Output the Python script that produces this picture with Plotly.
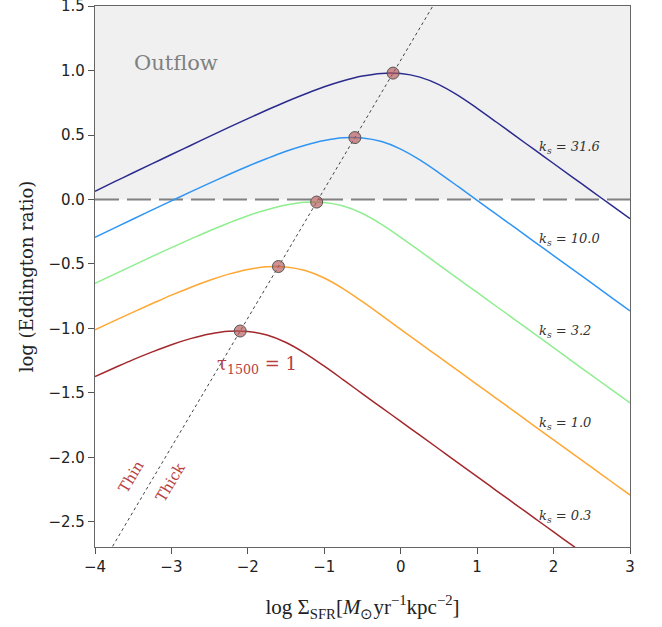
import plotly.graph_objects as go

# ---------------- data ----------------
log_sfr = [-4.0, -3.75, -3.5, -3.25, -3.0, -2.75, -2.5, -2.25, -2.0, -1.75, -1.5, -1.25,
           -1.0, -0.75, -0.5, -0.25, 0.0, 0.25, 0.5, 0.75, 1.0, 1.25, 1.5, 1.75,
           2.0, 2.25, 2.5, 2.75, 3.0]

ks_labels = ["31.6", "10.0", "3.2", "1.0", "0.3"]
ks_colors = ["#2b2b8e", "#2f95f5", "#8fee8f", "#ffa733", "#a3282c"]

edd_ks316 = [0.064, 0.136, 0.207, 0.278, 0.349, 0.419, 0.489, 0.559, 0.627, 0.694, 0.758, 0.818,
             0.874, 0.921, 0.957, 0.978, 0.977, 0.949, 0.891, 0.807, 0.707, 0.601, 0.493, 0.386,
             0.279, 0.172, 0.065, -0.042, -0.149]
edd_ks100 = [-0.293, -0.222, -0.151, -0.081, -0.011, 0.059, 0.127, 0.194, 0.258, 0.318, 0.374, 0.421,
             0.457, 0.478, 0.477, 0.449, 0.391, 0.307, 0.207, 0.101, -0.007, -0.114, -0.221, -0.328,
             -0.435, -0.542, -0.649, -0.757, -0.864]
edd_ks32 = [-0.651, -0.581, -0.511, -0.441, -0.373, -0.307, -0.242, -0.182, -0.126, -0.079, -0.043, -0.022,
            -0.023, -0.051, -0.109, -0.193, -0.293, -0.399, -0.507, -0.614, -0.721, -0.828, -0.935, -1.042,
            -1.149, -1.257, -1.364, -1.471, -1.578]
edd_ks10 = [-1.011, -0.941, -0.873, -0.807, -0.742, -0.682, -0.626, -0.579, -0.543, -0.522, -0.523, -0.551,
            -0.609, -0.693, -0.793, -0.899, -1.007, -1.114, -1.221, -1.328, -1.435, -1.542, -1.649, -1.757,
            -1.864, -1.971, -2.078, -2.185, -2.292]
edd_ks03 = [-1.373, -1.307, -1.242, -1.182, -1.126, -1.079, -1.043, -1.022, -1.023, -1.051, -1.109, -1.193,
            -1.293, -1.399, -1.507, -1.614, -1.721, -1.828, -1.935, -2.042, -2.149, -2.257, -2.364, -2.471,
            -2.578, -2.685, -2.792, -2.899, -3.007]

# tau_1500 = 1 points (peaks) and the tau = 1 line
tau1_x = [-2.1, -1.6, -1.1, -0.6, -0.1]
tau1_y = [-1.02, -0.52, -0.02, 0.48, 0.98]
tau_line_x = [-3.85, 0.48]
tau_line_y = [-2.77, 1.56]

outflow_threshold = 0.0
x_ticks = [-4, -3, -2, -1, 0, 1, 2, 3]
y_ticks = [-2.5, -2.0, -1.5, -1.0, -0.5, 0.0, 0.5, 1.0, 1.5]

# label anchor y positions for the ks annotations
ks_label_y = [0.40, -0.31, -1.02, -1.74, -2.46]

series = [edd_ks316, edd_ks100, edd_ks32, edd_ks10, edd_ks03]

fig = go.Figure()

# outflow shading + threshold line
fig.add_shape(type="rect", xref="paper", yref="y", x0=0, x1=1, y0=outflow_threshold, y1=1.6,
              fillcolor="#f0f0f0", line_width=0, layer="below")
fig.add_shape(type="line", xref="paper", yref="y", x0=0, x1=1, y0=outflow_threshold, y1=outflow_threshold,
              line=dict(color="#808080", width=2, dash="24px,8px"), layer="below")

for ys, col in zip(series, ks_colors):
    fig.add_trace(go.Scatter(x=log_sfr, y=ys, mode="lines", line=dict(color=col, width=1.5, shape="spline"),
                             showlegend=False, hoverinfo="skip"))

fig.add_trace(go.Scatter(x=tau_line_x, y=tau_line_y, mode="lines",
                         line=dict(color="#444444", width=1, dash="dot"), showlegend=False))

fig.add_trace(go.Scatter(x=tau1_x, y=tau1_y, mode="markers",
                         marker=dict(size=12, color="rgba(180,85,85,0.65)",
                                     line=dict(color="#555555", width=1)),
                         showlegend=False))

serif = "DejaVu Serif"
red_txt = "#b8403f"

fig.add_annotation(x=-3.52, y=1.06, text="Outflow", showarrow=False, xanchor="left",
                   font=dict(family=serif, size=21, color="#808080"))

for lab, ly in zip(ks_labels, ks_label_y):
    fig.add_annotation(x=1.78, y=ly, text=f"<i>k<sub>s</sub> = {lab}</i>", showarrow=False, xanchor="left",
                       font=dict(family=serif, size=13, color="#333333"))

fig.add_annotation(x=-1.88, y=-1.28, text="τ<sub>1500</sub> = 1", showarrow=False,
                   font=dict(family=serif, size=18, color=red_txt))
fig.add_annotation(x=-3.53, y=-2.15, text="Thin", showarrow=False, textangle=-59,
                   font=dict(family=serif, size=15, color=red_txt))
fig.add_annotation(x=-3.01, y=-2.19, text="Thick", showarrow=False, textangle=-59,
                   font=dict(family=serif, size=15, color=red_txt))

axis_common = dict(showline=True, mirror=True, linecolor="#666666", linewidth=1.2,
                   ticks="outside", ticklen=6, tickcolor="#555555", showgrid=False, zeroline=False,
                   ticklabeloverflow="allow",
                   tickfont=dict(family="DejaVu Sans", size=15, color="#222222"))

fig.update_xaxes(range=[-4, 3], tickvals=x_ticks, **axis_common,
                 title=dict(text="log Σ<sub>SFR</sub>[<i>M</i><sub>⊙</sub>yr<sup>−1</sup>kpc<sup>−2</sup>]",
                            font=dict(family="Liberation Serif", size=21, color="#222222"), standoff=24))
fig.update_yaxes(range=[-2.695, 1.5005], tickvals=y_ticks, tickformat=".1f", **axis_common,
                 title=dict(text="log (Eddington ratio)",
                            font=dict(family=serif, size=18, color="#222222"), standoff=10))

fig.update_layout(width=662, height=627, margin=dict(l=95, r=32, t=6, b=80, autoexpand=False),
                  plot_bgcolor="white", paper_bgcolor="white")

fig.write_html("out.html", post_script="document.body.style.margin='0px';",
               config={"displayModeBar": False})
